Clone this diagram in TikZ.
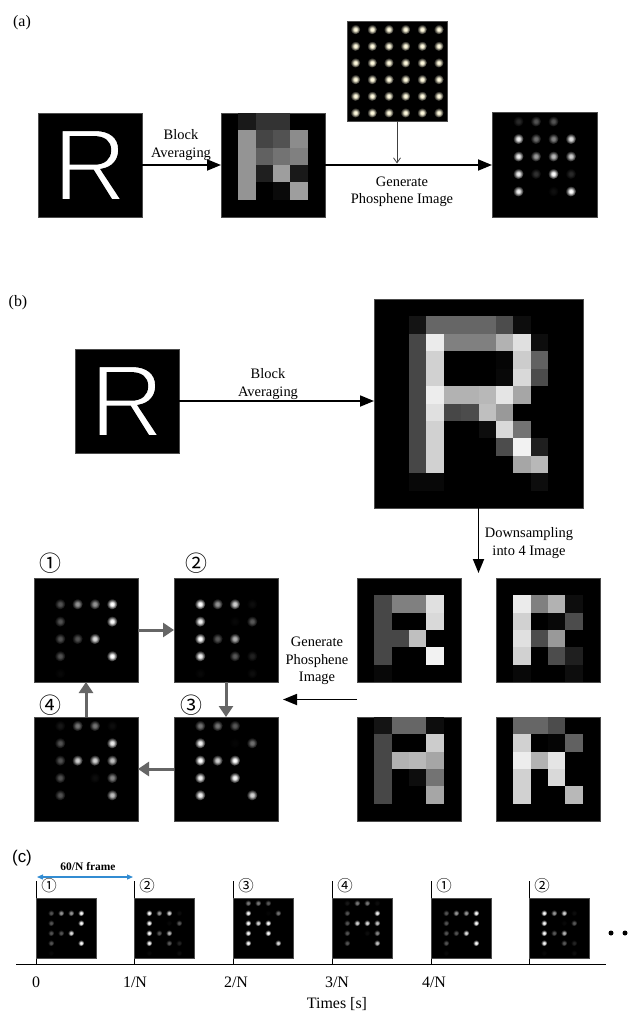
\documentclass[tikz,border=0pt]{standalone}
\usepackage{fontspec}
\setmainfont{Liberation Serif}
\newfontfamily\arialfont{Liberation Sans}
\newfontfamily\cjkfont{Noto Sans CJK KR}
\usetikzlibrary{arrows.meta,calc}
\colorlet{dotcol}{white}
\definecolor{cream}{RGB}{255,250,222}
\definecolor{arrblue}{RGB}{50,140,210}
\pgfdeclareradialshading[dotcol]{phos}{\pgfpoint{0bp}{0bp}}{color(0bp)=(dotcol); color(7bp)=(dotcol); color(15bp)=(dotcol!50!black); color(25bp)=(black); color(50bp)=(black)}

% pixel grid: node, cell size, list row/col/percent
\newcommand\pixgrid[3]{%
  \begin{scope}[shift={(#1.north west)}]
    \foreach \rr/\cc/\vv in #3 {%
      \fill[white!\vv!black] ({\cc*#2},{\rr*#2}) rectangle ({(\cc+1)*#2},{(\rr+1)*#2});}
  \end{scope}}
% phosphene dots: node, cell size, radius, gain, list
\newcommand\phos[5]{%
  \begin{scope}[shift={(#1.north west)}]
    \foreach \rr/\cc/\vv in #5 {%
      \pgfmathtruncatemacro\pp{min(100,\vv*#4)}%
      \colorlet{dotcol}{white!\pp!black}%
      \shade[shading=phos] ({(\cc+0.5)*#2},{(\rr+0.5)*#2}) circle (#3);}
  \end{scope}}
% thin white R (glyph outline stroked in black)
\newcommand\thinR{\special{pdf:literal direct 2 Tr 2.6 w 0 G}R\special{pdf:literal direct 0 Tr 0.3985 w}}

\def\ImgAM{0/1/10,0/2/20,0/3/20,1/1/58,1/2/27,1/3/32,1/4/55,2/1/58,2/2/38,2/3/45,2/4/50,3/1/58,3/2/12,3/3/62,3/4/10,4/1/58,4/3/4,4/4/62}
\def\ImgBig{1/2/8,1/3/40,1/4/40,1/5/40,1/6/40,1/7/30,1/8/5,2/2/28,2/3/92,2/4/50,2/5/50,2/6/50,2/7/70,2/8/88,2/9/5,3/2/28,3/3/82,3/7/2,3/8/80,3/9/38,4/2/28,4/3/82,4/7/3,4/8/85,4/9/30,5/2/28,5/3/93,5/4/70,5/5/70,5/6/72,5/7/90,5/8/65,6/2/28,6/3/88,6/4/28,6/5/30,6/6/75,6/7/60,7/2/28,7/3/82,7/6/5,7/7/85,7/8/45,8/2/28,8/3/82,8/7/30,8/8/95,8/9/12,9/2/28,9/3/82,9/8/65,9/9/72,10/2/3,10/3/3,10/9/5}
\def\ImgTL{1/1/28,1/2/50,1/3/50,1/4/88,2/1/28,2/4/85,3/1/28,3/2/28,3/3/75,4/1/28,4/4/95,5/1/3}
\def\ImgTR{1/1/92,1/2/50,1/3/70,1/4/5,2/1/82,2/3/3,2/4/30,3/1/88,3/2/30,3/3/60,4/1/82,4/3/30,4/4/12,5/1/3,5/4/5}
\def\ImgBL{0/1/8,0/2/40,0/3/40,0/4/5,1/1/28,1/4/80,2/1/28,2/2/70,2/3/72,2/4/65,3/1/28,3/3/5,3/4/45,4/1/28,4/4/65}
\def\ImgBR{0/1/40,0/2/40,0/3/30,1/1/82,1/3/2,1/4/38,2/1/93,2/2/70,2/3/90,3/1/82,3/3/85,4/1/82,4/4/72}

\tikzset{
  imgbox/.style={fill=black, draw=black!70, line width=0.5bp, inner sep=0, outer sep=0, minimum size=104bp},
  rletter/.style={text=white, font=\arialfont\fontsize{103}{103}\selectfont, inner sep=0},
  lbl/.style={font=\fontsize{14.5}{17.5}\selectfont, align=center, inner sep=0},
  plabel/.style={font=\fontsize{16}{16}\selectfont, inner sep=0},
  cnum/.style={font=\cjkfont\fontsize{22}{22}\selectfont, inner sep=0},
  cnumsmall/.style={font=\cjkfont\fontsize{15.5}{15.5}\selectfont, inner sep=0},
  ticklbl/.style={font=\fontsize{16}{16}\selectfont, inner sep=0},
  bigarrow/.style={line width=1.8bp, -{Triangle[length=14bp,width=11bp]}},
  thinarrow/.style={line width=0.8bp, black!75, -{Straight Barb[length=5bp,width=7bp]}},
  grayarrow/.style={line width=3bp, black!60, -{Triangle[length=11bp,width=14bp]}},
  bluearrow/.style={line width=1.2bp, arrblue, {Triangle[length=6bp,width=5bp]}-{Triangle[length=6bp,width=5bp]}},
  flagline/.style={line width=0.9bp, black},
}

\newcommand\frameC[4]{%
  \coordinate (#1top) at (#2,881);
  \coordinate (#1bot) at (#2,964);
  \draw[flagline] (#1top) -- (#1bot);
  \node[imgbox, minimum size=60bp, anchor=north west] (#1) at (#2,898) {};
  \phos{#1}{10}{3.2bp}{1.2}{#3}
  \node[cnumsmall] (#1n) at ($(#2,886)+(13,0)$) {#4};
}

\begin{document}
\begin{tikzpicture}[x=1bp,y=-1bp]
\useasboundingbox (0,0) rectangle (630,1014);

% ---------------- (a)
\node[plabel] (la) at (22,23) {(a)};
\node[imgbox] (aR) at (90,165) {};
\node[rletter] (aRt) at (aR.center) {\thinR};
\node[imgbox] (aM) at (273,165) {};
\pixgrid{aM}{17.333}{\ImgAM}
\node[imgbox, minimum size=100bp] (aT) at (397,71) {};
\begin{scope}[shift={(aT.north west)}]
  \colorlet{dotcol}{cream}
  \foreach \rr in {0,...,5}{\foreach \cc in {0,...,5}{%
    \shade[shading=phos] ({(\cc+0.5)*16.667},{(\rr+0.5)*16.667}) circle (5bp);}}
\end{scope}
\node[imgbox, minimum size=105bp] (aP) at (544.5,165) {};
\phos{aP}{17.5}{5.4bp}{1.6}{\ImgAM}

\draw[bigarrow] (aR.east) -- (aM.west);
\node[lbl] (aBA) at (181,145) {Block\\Averaging};
\draw[bigarrow] (aM.east) -- (aP.west);
\coordinate (aJ) at ($(aT.south |- aM.east)+(0,-1.5)$);
\draw[thinarrow] (aT.south) -- (aJ);
\node[lbl] (aGP) at (402,192) {Generate\\Phosphene Image};

% ---------------- (b)
\node[plabel] (lb) at (18,303) {(b)};
\node[imgbox] (bR) at (127,401) {};
\node[rletter] (bRt) at (bR.center) {\thinR};
\node[imgbox, minimum size=209bp] (bBig) at (478.5,403.5) {};
\pixgrid{bBig}{17.4167}{\ImgBig}
\draw[bigarrow] (bR.east) -- (bR.east -| bBig.west);
\node[lbl] (bBA) at (268,384) {Block\\Averaging};

\node[imgbox] (dTL) at (409,630) {};
\pixgrid{dTL}{17.333}{\ImgTL}
\node[imgbox] (dTR) at (548,630) {};
\pixgrid{dTR}{17.333}{\ImgTR}
\node[imgbox] (dBL) at (409,769) {};
\pixgrid{dBL}{17.333}{\ImgBL}
\node[imgbox] (dBR) at (548,769) {};
\pixgrid{dBR}{17.333}{\ImgBR}

\coordinate (bDown) at ($(bBig.south |- dTL.north)+(0,-5)$);
\draw[bigarrow] (bBig.south) -- (bDown);
\node[lbl, align=center] (bDS) at (529,543) {Downsampling\\into 4 Image};

\node[imgbox] (p1) at (86,630) {};
\phos{p1}{17.333}{5.5bp}{1.15}{\ImgTL}
\node[imgbox] (p2) at (226,630) {};
\phos{p2}{17.333}{5.5bp}{1.15}{\ImgTR}
\node[imgbox] (p4) at (86,769) {};
\phos{p4}{17.333}{5.5bp}{1.15}{\ImgBL}
\node[imgbox] (p3) at (226,769) {};
\phos{p3}{17.333}{5.5bp}{1.15}{\ImgBR}

\node[cnum] (n1) at (50,563) {①};
\node[cnum] (n2) at (196,563) {②};
\node[cnum] (n4) at (50,705) {④};
\node[cnum] (n3) at (191,705) {③};

\draw[grayarrow] (p1.east) -- (p2.west);
\draw[grayarrow] (p2.south) -- (p3.north);
\draw[grayarrow] (p3.west) -- (p4.east);
\draw[grayarrow] (p4.north) -- (p1.south);

\coordinate (gS) at ($(dTL.south west)!0.5!(dBL.north west)$);
\coordinate (gE) at ($(p2.south east)!0.5!(p3.north east)+(5,0)$);
\draw[bigarrow] (gS) -- (gE);
\node[lbl] (bGP) at (317,661) {Generate\\Phosphene\\Image};

% ---------------- (c)
\node[font=\arialfont\fontsize{17}{17}\selectfont, inner sep=0] (lc) at (22,858) {(c)};
\coordinate (bl) at (37,877);
\coordinate (br) at (133,877);
\draw[bluearrow] (bl) -- (br);
\node[font=\bfseries\fontsize{11.5}{11.5}\selectfont, inner sep=0] (fr) at (88,867) {60/N frame};

\frameC{f1}{36}{\ImgTL}{①}
\frameC{f2}{134}{\ImgTR}{②}
\frameC{f3}{233}{\ImgBR}{③}
\frameC{f4}{332}{\ImgBL}{④}
\frameC{f5}{431}{\ImgTL}{①}
\frameC{f6}{529}{\ImgTR}{②}

\coordinate (axL) at (16,964);
\coordinate (axR) at (606,964);
\draw[line width=0.9bp] (axL) -- (axR);

\node[ticklbl] (t0) at (36,982) {0};
\node[ticklbl] (t1) at (135,982) {1/N};
\node[ticklbl] (t2) at (236,982) {2/N};
\node[ticklbl] (t3) at (337,982) {3/N};
\node[ticklbl] (t4) at (434,982) {4/N};
\node[ticklbl] (tt) at (337,1004) {Times [s]};

\node[circle, fill=black, minimum size=5bp, inner sep=0] (e1) at (611,933) {};
\node[circle, fill=black, minimum size=5bp, inner sep=0] (e2) at (625,933) {};
\end{tikzpicture}
\end{document}
